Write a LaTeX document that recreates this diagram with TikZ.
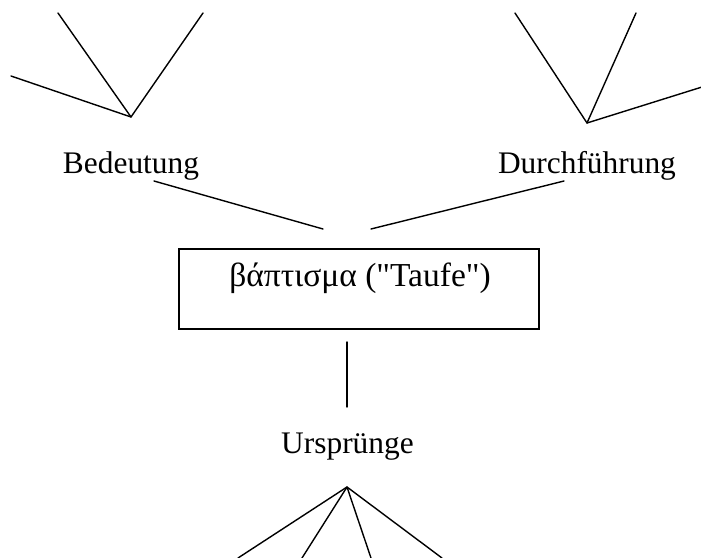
\documentclass[tikz,border=0pt]{standalone}
\usepackage{fontspec}
\setmainfont{Liberation Serif}
\begin{document}
\begin{tikzpicture}[x=1pt,y=-1pt,
  branch/.style={line width=1.4pt, line cap=round, line join=round},
  lbl/.style={font=\fontsize{31.4}{36}\selectfont, inner sep=0pt, anchor=base},
  boxlbl/.style={lbl, font=\fontsize{33.5}{38}\selectfont},
  framebox/.style={draw, line width=1.4pt, minimum width=360pt, minimum height=80pt, inner sep=0pt}]
\useasboundingbox (0,0) rectangle (701,557);

% labels
\node[lbl] (bed) at (131,173) {Bedeutung};
\node[lbl] (dur) at (587,173) {Durchführung};
\node[lbl] (urs) at (347.5,453) {Ursprünge};

% central box with its caption
\node[framebox] (box) at (359,289) {};
\node[boxlbl] (greek) at (360,286) {βάπτισμα (\textquotedbl Taufe\textquotedbl)};

% branch points and free ends
\coordinate (tl) at (131,117);
\coordinate (tl1) at (58,13);
\coordinate (tl2) at (203,13);
\coordinate (tl3) at (11,76);
\coordinate (tr) at (587,123);
\coordinate (tr1) at (515,13);
\coordinate (tr2) at (636,13);
\coordinate (tr3) at (702,87);
\coordinate (bt) at (347,487);
\coordinate (bt1) at (238,558);
\coordinate (bt2) at (302,558);
\coordinate (bt3) at (371,558);
\coordinate (bt4) at (442,558);

% links between labels and the box
\coordinate (bedEnd) at (154,181);
\coordinate (boxL) at (323,229);
\coordinate (boxR) at (371,229);
\coordinate (durEnd) at (564,181);
\coordinate (boxB) at (347,342);
\coordinate (ursTop) at (347,407);

\draw[branch] (tl1) -- (tl) -- (tl2);
\draw[branch] (tl3) -- (tl);
\draw[branch] (tr1) -- (tr) -- (tr2);
\draw[branch] (tr) -- (tr3);
\draw[branch] (bt1) -- (bt) -- (bt4);
\draw[branch] (bt2) -- (bt) -- (bt3);

\draw[branch] (bedEnd) -- (boxL);
\draw[branch] (durEnd) -- (boxR);
\draw[branch] (boxB) -- (ursTop);
\end{tikzpicture}
\end{document}
